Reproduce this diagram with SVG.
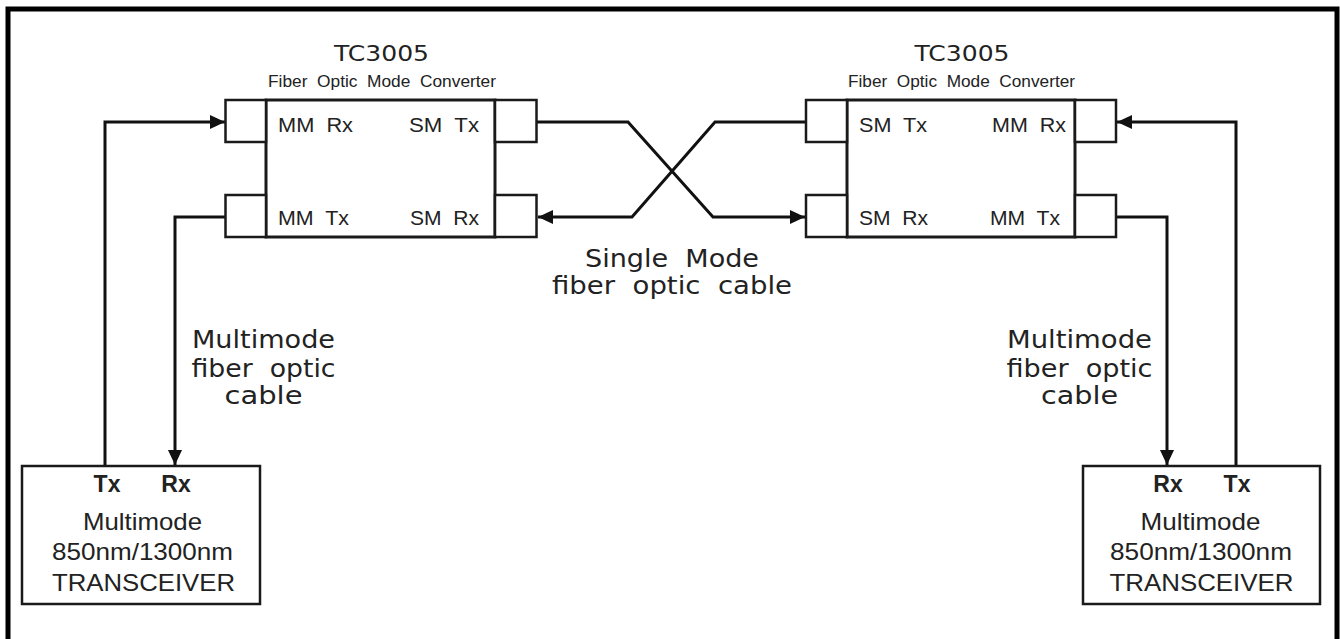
<svg xmlns="http://www.w3.org/2000/svg" width="1340" height="639" viewBox="0 0 1340 639">
<style>
.box{fill:#fff;stroke:#1a1a1a;stroke-width:2.5}
.body{fill:#fff;stroke:#1a1a1a;stroke-width:3}
.wire{fill:none;stroke:#111;stroke-width:3}
.wide{font-family:"DejaVu Sans","Liberation Sans",sans-serif;fill:#222}
.narrow{font-family:"Liberation Sans Narrow","Liberation Sans",sans-serif;fill:#222}
.arial{font-family:"Liberation Sans",Arial,sans-serif;fill:#222}
.bold{font-family:"Liberation Sans",Arial,sans-serif;font-weight:bold;fill:#222}
</style>
<defs>
<marker id="ah" markerUnits="userSpaceOnUse" markerWidth="16" markerHeight="16" refX="15" refY="7" orient="auto">
<path d="M0,0 L15,7 L0,14 z" fill="#111"/>
</marker>
</defs>
<rect width="1340" height="639" fill="#fff"/>
<path d="M8,650 V9 H1337 V650" fill="none" stroke="#000" stroke-width="5"/>

<g id="connectors">
<path class="wire" d="M105,466 V122 H225" marker-end="url(#ah)"/>
<path class="wire" d="M225,217 H175 V465" marker-end="url(#ah)"/>
<path class="wire" d="M537,122 H628 L713,217 H805" marker-end="url(#ah)"/>
<path class="wire" d="M806,122 H715 L632,217 H538" marker-end="url(#ah)"/>
<path class="wire" d="M1236,466 V122 H1117" marker-end="url(#ah)"/>
<path class="wire" d="M1116,217 H1167 V465" marker-end="url(#ah)"/>
</g>

<g id="converter-left">
<text class="wide" x="381.5" y="61" font-size="22" text-anchor="middle" textLength="95" lengthAdjust="spacingAndGlyphs">TC3005</text>
<text class="narrow" x="268" y="87" font-size="17" textLength="228" lengthAdjust="spacingAndGlyphs" xml:space="preserve">Fiber  Optic  Mode  Converter</text>
<rect class="body" x="266" y="100" width="229" height="137"/>
<rect class="box" x="225.5" y="100" width="40.5" height="42"/>
<rect class="box" x="225.5" y="195" width="40.5" height="42"/>
<rect class="box" x="495" y="100" width="41.5" height="42"/>
<rect class="box" x="495" y="195" width="41.5" height="42"/>
<text class="narrow" x="278" y="132" font-size="21" textLength="75" lengthAdjust="spacingAndGlyphs" xml:space="preserve">MM  Rx</text>
<text class="narrow" x="409" y="132" font-size="21" textLength="70" lengthAdjust="spacingAndGlyphs" xml:space="preserve">SM  Tx</text>
<text class="narrow" x="278" y="225" font-size="21" textLength="71" lengthAdjust="spacingAndGlyphs" xml:space="preserve">MM  Tx</text>
<text class="narrow" x="410" y="225" font-size="21" textLength="69" lengthAdjust="spacingAndGlyphs" xml:space="preserve">SM  Rx</text>
</g>

<g id="converter-right">
<text class="wide" x="962" y="61" font-size="22" text-anchor="middle" textLength="95" lengthAdjust="spacingAndGlyphs">TC3005</text>
<text class="narrow" x="848" y="87" font-size="17" textLength="227" lengthAdjust="spacingAndGlyphs" xml:space="preserve">Fiber  Optic  Mode  Converter</text>
<rect class="body" x="847" y="100" width="228" height="137"/>
<rect class="box" x="806" y="100" width="41" height="42"/>
<rect class="box" x="806" y="195" width="41" height="42"/>
<rect class="box" x="1075" y="100" width="41" height="42"/>
<rect class="box" x="1075" y="195" width="41" height="42"/>
<text class="narrow" x="859" y="132" font-size="21" textLength="68" lengthAdjust="spacingAndGlyphs" xml:space="preserve">SM  Tx</text>
<text class="narrow" x="992" y="132" font-size="21" textLength="74" lengthAdjust="spacingAndGlyphs" xml:space="preserve">MM  Rx</text>
<text class="narrow" x="859" y="225" font-size="21" textLength="69" lengthAdjust="spacingAndGlyphs" xml:space="preserve">SM  Rx</text>
<text class="narrow" x="990" y="225" font-size="21" textLength="70" lengthAdjust="spacingAndGlyphs" xml:space="preserve">MM  Tx</text>
</g>

<g id="label-single-mode">
<text class="wide" x="672" y="267" font-size="24" text-anchor="middle" textLength="174" lengthAdjust="spacingAndGlyphs" xml:space="preserve">Single  Mode</text>
<text class="wide" x="672" y="294" font-size="24" text-anchor="middle" textLength="240" lengthAdjust="spacingAndGlyphs" xml:space="preserve">fiber  optic  cable</text>
</g>

<g id="label-multimode-left">
<text class="wide" x="263.5" y="348" font-size="24" text-anchor="middle" textLength="143" lengthAdjust="spacingAndGlyphs">Multimode</text>
<text class="wide" x="263.5" y="377" font-size="24" text-anchor="middle" textLength="144" lengthAdjust="spacingAndGlyphs" xml:space="preserve">fiber  optic</text>
<text class="wide" x="263.5" y="404" font-size="24" text-anchor="middle" textLength="78" lengthAdjust="spacingAndGlyphs">cable</text>
</g>

<g id="label-multimode-right">
<text class="wide" x="1079.5" y="348" font-size="24" text-anchor="middle" textLength="145" lengthAdjust="spacingAndGlyphs">Multimode</text>
<text class="wide" x="1079.5" y="377" font-size="24" text-anchor="middle" textLength="146" lengthAdjust="spacingAndGlyphs" xml:space="preserve">fiber  optic</text>
<text class="wide" x="1079.5" y="404" font-size="24" text-anchor="middle" textLength="77" lengthAdjust="spacingAndGlyphs">cable</text>
</g>

<g id="transceiver-left">
<rect class="box" x="22" y="466" width="238" height="138"/>
<text class="bold" x="107" y="492" font-size="23" text-anchor="middle">Tx</text>
<text class="bold" x="176" y="492" font-size="23" text-anchor="middle">Rx</text>
<text class="arial" x="142.5" y="530" font-size="24" text-anchor="middle" textLength="119" lengthAdjust="spacingAndGlyphs">Multimode</text>
<text class="arial" x="142.5" y="560" font-size="24" text-anchor="middle" textLength="181" lengthAdjust="spacingAndGlyphs">850nm/1300nm</text>
<text class="arial" x="143.5" y="591" font-size="24" text-anchor="middle" textLength="183" lengthAdjust="spacingAndGlyphs">TRANSCEIVER</text>
</g>

<g id="transceiver-right">
<rect class="box" x="1083" y="466" width="237" height="138"/>
<text class="bold" x="1168" y="492" font-size="23" text-anchor="middle">Rx</text>
<text class="bold" x="1237" y="492" font-size="23" text-anchor="middle">Tx</text>
<text class="arial" x="1200.5" y="530" font-size="24" text-anchor="middle" textLength="120" lengthAdjust="spacingAndGlyphs">Multimode</text>
<text class="arial" x="1201" y="560" font-size="24" text-anchor="middle" textLength="182" lengthAdjust="spacingAndGlyphs">850nm/1300nm</text>
<text class="arial" x="1201.5" y="591" font-size="24" text-anchor="middle" textLength="184" lengthAdjust="spacingAndGlyphs">TRANSCEIVER</text>
</g>
</svg>
